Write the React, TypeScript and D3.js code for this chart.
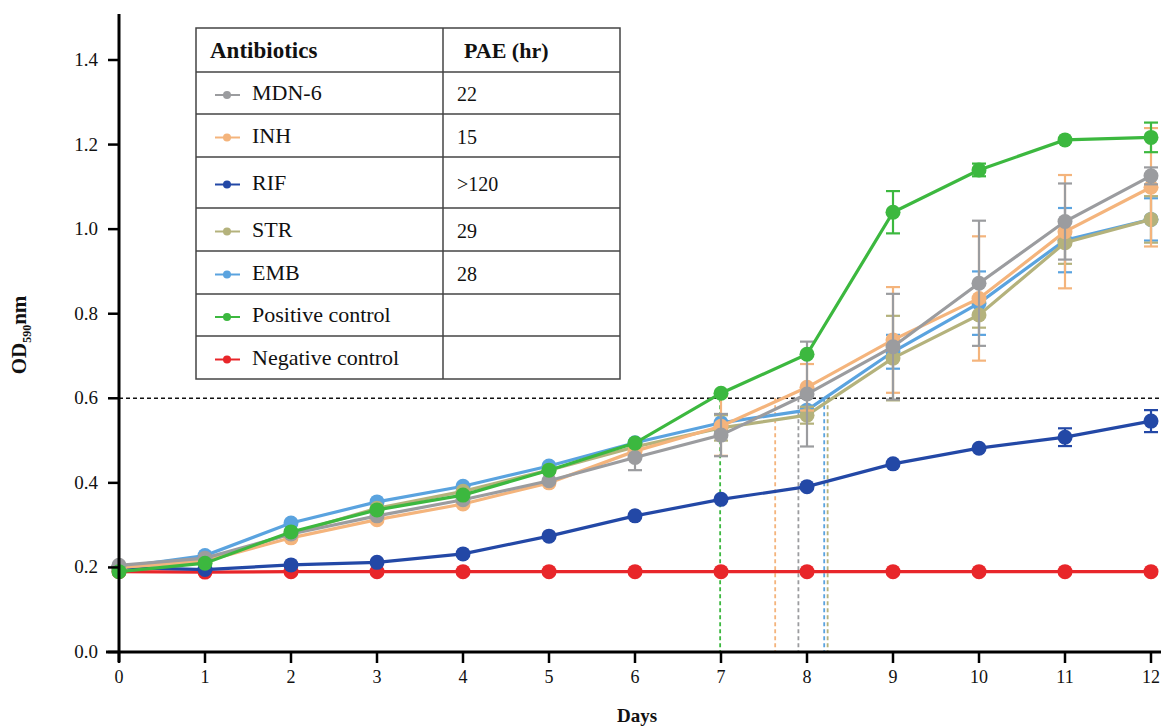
import React from "react";
import * as d3 from "d3";

const days = [0, 1, 2, 3, 4, 5, 6, 7, 8, 9, 10, 11, 12];
const yTicks = [0.0, 0.2, 0.4, 0.6, 0.8, 1.0, 1.2, 1.4];

const mdn6 = [0.205, 0.222, 0.279, 0.322, 0.36, 0.405, 0.46, 0.513, 0.61, 0.722, 0.872, 1.018, 1.126];
const inh = [0.2, 0.215, 0.27, 0.313, 0.35, 0.4, 0.475, 0.534, 0.626, 0.738, 0.836, 0.994, 1.099];
const rif = [0.2, 0.195, 0.206, 0.212, 0.232, 0.274, 0.322, 0.361, 0.391, 0.445, 0.482, 0.508, 0.546];
const str = [0.2, 0.215, 0.28, 0.34, 0.38, 0.43, 0.485, 0.53, 0.56, 0.695, 0.797, 0.968, 1.023];
const emb = [0.2, 0.228, 0.305, 0.355, 0.392, 0.44, 0.495, 0.542, 0.572, 0.71, 0.825, 0.974, 1.023];
const pos = [0.19, 0.21, 0.284, 0.336, 0.371, 0.43, 0.494, 0.612, 0.704, 1.04, 1.14, 1.211, 1.217];
const neg = [0.19, 0.189, 0.19, 0.19, 0.19, 0.19, 0.19, 0.19, 0.19, 0.19, 0.19, 0.19, 0.19];

const mdn6Err = [0, 0, 0, 0, 0, 0, 0.03, 0.05, 0.124, 0.125, 0.148, 0.09, 0.02];
const inhErr = [0, 0, 0, 0, 0, 0, 0, 0.07, 0.055, 0.125, 0.147, 0.134, 0.14];
const rifErr = [0, 0, 0, 0, 0, 0, 0, 0, 0, 0, 0, 0.021, 0.026];
const strErr = [0, 0, 0, 0, 0, 0, 0, 0.03, 0.02, 0.1, 0.03, 0.05, 0.055];
const embErr = [0, 0, 0, 0, 0, 0, 0, 0.02, 0, 0.04, 0.075, 0.076, 0.05];
const posErr = [0, 0, 0, 0, 0, 0, 0, 0, 0, 0.05, 0.015, 0, 0.035];
const negErr = [0, 0, 0, 0, 0, 0, 0, 0, 0, 0, 0, 0, 0];

const names = ["MDN-6", "INH", "RIF", "STR", "EMB", "Positive control", "Negative control"];
const pae = ["22", "15", ">120", "29", "28", "", ""];
const colors = ["#9b9c9f", "#f4b47c", "#2348a6", "#b4b27c", "#5aa3df", "#3cb83f", "#e8262a"];
const crossDays = [7.9, 7.63, null, 8.24, 8.2, 6.99, null];
const threshold = 0.6;

const values = [mdn6, inh, rif, str, emb, pos, neg];
const errs = [mdn6Err, inhErr, rifErr, strErr, embErr, posErr, negErr];
const drawOrder = [6, 2, 4, 3, 1, 0, 5];

const x = d3.scaleLinear().domain([0, 12]).range([119, 1151]);
const y = d3.scaleLinear().domain([0, 1.4]).range([652, 60]);

const line = d3
  .line<number>()
  .x((_, i) => x(days[i]))
  .y((d) => y(d));

const serif = "'Liberation Serif', 'Times New Roman', serif";

export default function App() {
  const tableTop = 28;
  const tableBottom = 379;
  const tableLeft = 196;
  const tableRight = 620;
  const colDiv = 443;
  const rowEdges = [28, 72, 114, 157, 208, 251, 294, 336, 379];

  return (
    <svg
      width={1163}
      height={726}
      style={{ position: "absolute", left: 0, top: 0, background: "#fff", fontFamily: serif }}
    >
      <rect x={0} y={0} width={1163} height={726} fill="#fff" />

      {/* threshold dashed line */}
      <line
        x1={x(0)}
        x2={1160}
        y1={y(threshold)}
        y2={y(threshold)}
        stroke="#111"
        strokeWidth={1.6}
        strokeDasharray="4,3"
      />

      {/* vertical crossing lines */}
      {crossDays.map((cd, i) =>
        cd === null ? null : (
          <line
            key={"v" + i}
            x1={x(cd)}
            x2={x(cd)}
            y1={y(threshold)}
            y2={y(0)}
            stroke={colors[i]}
            strokeWidth={1.8}
            strokeDasharray="4,3"
          />
        )
      )}

      {/* series */}
      {drawOrder.map((si) => (
        <g key={"s" + si}>
          {values[si].map((v, i) =>
            errs[si][i] > 0 ? (
              <g key={"e" + i} stroke={colors[si]} strokeWidth={2.2}>
                <line x1={x(days[i])} x2={x(days[i])} y1={y(v + errs[si][i])} y2={y(v - errs[si][i])} />
                <line x1={x(days[i]) - 7} x2={x(days[i]) + 7} y1={y(v + errs[si][i])} y2={y(v + errs[si][i])} />
                <line x1={x(days[i]) - 7} x2={x(days[i]) + 7} y1={y(v - errs[si][i])} y2={y(v - errs[si][i])} />
              </g>
            ) : null
          )}
          <path d={line(values[si]) || ""} fill="none" stroke={colors[si]} strokeWidth={3.2} />
          {values[si].map((v, i) => (
            <circle key={"c" + i} cx={x(days[i])} cy={y(v)} r={7.5} fill={colors[si]} />
          ))}
        </g>
      ))}

      {/* axes */}
      <line x1={119} x2={119} y1={14} y2={662} stroke="#000" strokeWidth={3} />
      <line x1={106} x2={1161} y1={652} y2={652} stroke="#000" strokeWidth={3} />
      {yTicks.map((t) => (
        <g key={"yt" + t}>
          <line x1={108} x2={119} y1={y(t)} y2={y(t)} stroke="#000" strokeWidth={2.5} />
          <text x={98} y={y(t) + 6} textAnchor="end" fontSize={19} fill="#111">
            {t.toFixed(1)}
          </text>
        </g>
      ))}
      {days.map((d) => (
        <g key={"xt" + d}>
          <line x1={x(d)} x2={x(d)} y1={652} y2={663} stroke="#000" strokeWidth={2.5} />
          <text x={x(d)} y={683} textAnchor="middle" fontSize={18} fill="#111">
            {d}
          </text>
        </g>
      ))}
      <text x={637} y={722} textAnchor="middle" fontSize={19} fontWeight="bold" fill="#111">
        Days
      </text>
      <text
        transform="translate(26,335) rotate(-90)"
        textAnchor="middle"
        fontSize={21}
        fontWeight="bold"
        fill="#111"
      >
        OD
        <tspan fontSize={12} dy={5}>590</tspan>
        <tspan dy={-5}>nm</tspan>
      </text>

      {/* legend table */}
      <rect
        x={tableLeft}
        y={tableTop}
        width={tableRight - tableLeft}
        height={tableBottom - tableTop}
        fill="#fff"
        stroke="#444"
        strokeWidth={1.5}
      />
      {rowEdges.slice(1, -1).map((ry, i) => (
        <line key={"r" + i} x1={tableLeft} x2={tableRight} y1={ry} y2={ry} stroke="#444" strokeWidth={1.5} />
      ))}
      <line x1={colDiv} x2={colDiv} y1={tableTop} y2={tableBottom} stroke="#444" strokeWidth={1.5} />
      <text x={210} y={58} fontSize={23} fontWeight="bold" fill="#111">
        Antibiotics
      </text>
      <text x={464} y={58} fontSize={22} fontWeight="bold" fill="#111">
        PAE (hr)
      </text>
      {names.map((n, i) => {
        const cy = (rowEdges[i + 1] + rowEdges[i + 2]) / 2;
        return (
          <g key={"l" + i}>
            <line x1={215} x2={240} y1={cy + 2} y2={cy + 2} stroke={colors[i]} strokeWidth={2} />
            <circle cx={227} cy={cy + 2} r={4} fill={colors[i]} />
            <text x={252} y={cy + 7} fontSize={22} fill="#111">
              {n}
            </text>
            <text x={457} y={cy + 8} fontSize={20} fill="#111">
              {pae[i]}
            </text>
          </g>
        );
      })}
    </svg>
  );
}
